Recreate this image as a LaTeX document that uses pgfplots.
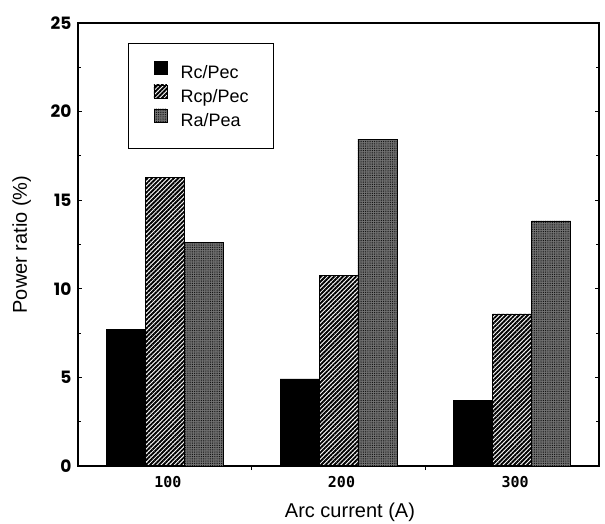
\documentclass[border=0pt]{standalone}
\usepackage{fontspec}
\setmainfont{Liberation Sans}
\newfontfamily\tickfont{Poppins}
\newfontfamily\catfont{DejaVu Sans Mono}
\usepackage{pgfplots}
\pgfplotsset{compat=1.18}
\usepackage{pgfplotstable}
\usetikzlibrary{patterns.meta}

% power ratios (%) at each arc current
\pgfplotstableread{
x rc rcp ra
0 7.72 16.29 12.60
1 4.92 10.76 18.44
2 3.71 8.58 13.83
}\powertable

\begin{document}
\begin{tikzpicture}
\useasboundingbox (0,0) rectangle (605pt,523pt);
\begin{axis}[
  at={(78pt,57pt)}, anchor=south west,
  scale only axis, width=521pt, height=443pt,
  ybar=0pt, bar width=0.2245,
  xmin=-0.5, xmax=2.5, ymin=0, ymax=25,
  axis line style={line width=1.4pt},
  tick align=inside,
  major tick length=4pt, minor tick length=3pt,
  tick style={line width=1pt, black},
  xtick={0,1,2}, xticklabels={100,200,300},
  xtick pos=lower,
  x tick style={draw=none},
  x tick label style={font=\catfont\bfseries\fontsize{15}{15}\selectfont, xshift=3pt, yshift=-7pt},
  extra x ticks={0.5,1.5}, extra x tick labels={},
  extra x tick style={tick align=outside, x tick style={draw=black}},
  ytick={0,5,...,25}, minor y tick num=1,
  ytick pos=both,
  y tick label style={font=\tickfont\bfseries\fontsize{17}{17}\selectfont, xshift=-3pt},
  /pgf/number format/assume math mode=true,
  xlabel={Arc current (A)},
  ylabel={Power ratio (\%)},
  label style={font=\fontsize{20}{20}\selectfont},
  xlabel style={at={(axis description cs:0.522,-0.104)}, anchor=center},
  ylabel style={at={(axis description cs:-0.108,0.5)}, anchor=center},
  legend style={at={(0.096,0.955)}, anchor=north west, draw=black, line width=1.2pt,
    inner xsep=25pt, inner ysep=17pt, row sep=1.5pt, column sep=13.5pt,
    font=\fontsize{18}{18}\selectfont,
    nodes={inner sep=0pt, text height=13pt, text depth=4.5pt}},
  legend cell align=left,
  legend image code/.code={\draw[#1, line width=0.6pt] (0pt,0.5pt) rectangle (13pt,13.5pt);},
]
\addplot[draw=black, line width=0.6pt, fill=black]
  table[x=x, y=rc]{\powertable};
\addplot[draw=black, line width=0.6pt,
  pattern={Lines[angle=45, distance=3.1pt, line width=1.9pt]}, pattern color=black]
  table[x=x, y=rcp]{\powertable};
\addplot[draw=black, line width=0.6pt, fill=black!55,
  postaction={pattern={Dots[distance=1.8pt, radius=0.5pt]}, pattern color=black}]
  table[x=x, y=ra]{\powertable};
\legend{Rc/Pec, Rcp/Pec, Ra/Pea}
\end{axis}
\end{tikzpicture}
\end{document}
